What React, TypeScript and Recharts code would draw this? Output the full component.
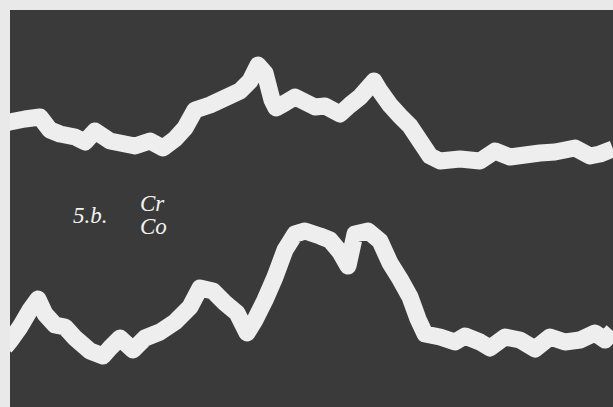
import { Line, LineChart, XAxis, YAxis } from "recharts";

// scan position (px along the photo) and signal height (407 - y)
const crPos = [5, 10, 25, 40, 50, 60, 75, 85, 95, 110, 125, 135, 150, 163, 175, 185, 195, 210, 225, 240, 250, 258, 265, 272, 276, 285, 295, 305, 315, 325, 340, 350, 360, 368, 374, 380, 390, 400, 410, 420, 430, 440, 460, 480, 495, 510, 525, 540, 555, 575, 590, 600, 613];
const crVal = [284, 285, 288, 290, 277, 273, 270, 265, 276, 266, 263, 261, 266, 259, 268, 279, 297, 302, 309, 316, 326, 342, 334, 307, 299, 304, 310, 305, 300, 301, 293, 302, 310, 319, 326, 316, 302, 291, 281, 266, 251, 246, 248, 246, 256, 250, 252, 254, 255, 259, 251, 253, 258];

const coPos = [5, 10, 20, 30, 38, 45, 55, 65, 75, 90, 103, 110, 120, 133, 145, 160, 175, 190, 200, 213, 225, 237, 247, 255, 265, 275, 285, 295, 305, 320, 330, 340, 348, 355, 368, 380, 390, 400, 410, 418, 425, 440, 455, 465, 480, 490, 505, 520, 535, 550, 565, 580, 595, 605, 613];
const coVal = [60, 66, 80, 97, 108, 93, 82, 80, 69, 56, 51, 59, 69, 57, 69, 75, 85, 100, 119, 116, 104, 94, 74, 87, 107, 130, 157, 173, 176, 171, 167, 155, 141, 173, 176, 166, 144, 128, 110, 88, 73, 70, 65, 71, 65, 59, 70, 67, 58, 70, 65, 67, 74, 67, 76];

const crData = crPos.map((p, i) => ({ pos: p, v: crVal[i] }));
const coData = coPos.map((p, i) => ({ pos: p, v: coVal[i] }));

const traceColor = "#eeeeee";
const label = { position: "absolute" as const, color: "#f2f2f2", fontFamily: "'Liberation Serif', serif", fontStyle: "italic", fontSize: 23 };

export default function App() {
  return (
    <div style={{ position: "absolute", left: 0, top: 0, width: 613, height: 407, background: "#e9e9e9", overflow: "hidden" }}>
      <div style={{ position: "absolute", left: 10, top: 10, width: 603, height: 397, background: "#3a3a3a", overflow: "hidden" }}>
        <div style={{ position: "absolute", left: -10, top: -10 }}>
          <LineChart width={613} height={407} margin={{ top: 0, right: 0, bottom: 0, left: 0 }}>
            <XAxis type="number" dataKey="pos" domain={[0, 613]} hide allowDuplicatedCategory={false} />
            <YAxis type="number" domain={[0, 407]} hide />
            <Line data={crData} dataKey="v" type="linear" stroke={traceColor} strokeWidth={17} strokeLinejoin="round" dot={false} activeDot={false} isAnimationActive={false} />
            <Line data={coData} dataKey="v" type="linear" stroke={traceColor} strokeWidth={17} strokeLinejoin="round" dot={false} activeDot={false} isAnimationActive={false} />
          </LineChart>
        </div>
      </div>
      <div style={{ ...label, left: 73, top: 203 }}>5.b.</div>
      <div style={{ ...label, left: 140, top: 191 }}>Cr</div>
      <div style={{ ...label, left: 140, top: 214 }}>Co</div>
    </div>
  );
}
